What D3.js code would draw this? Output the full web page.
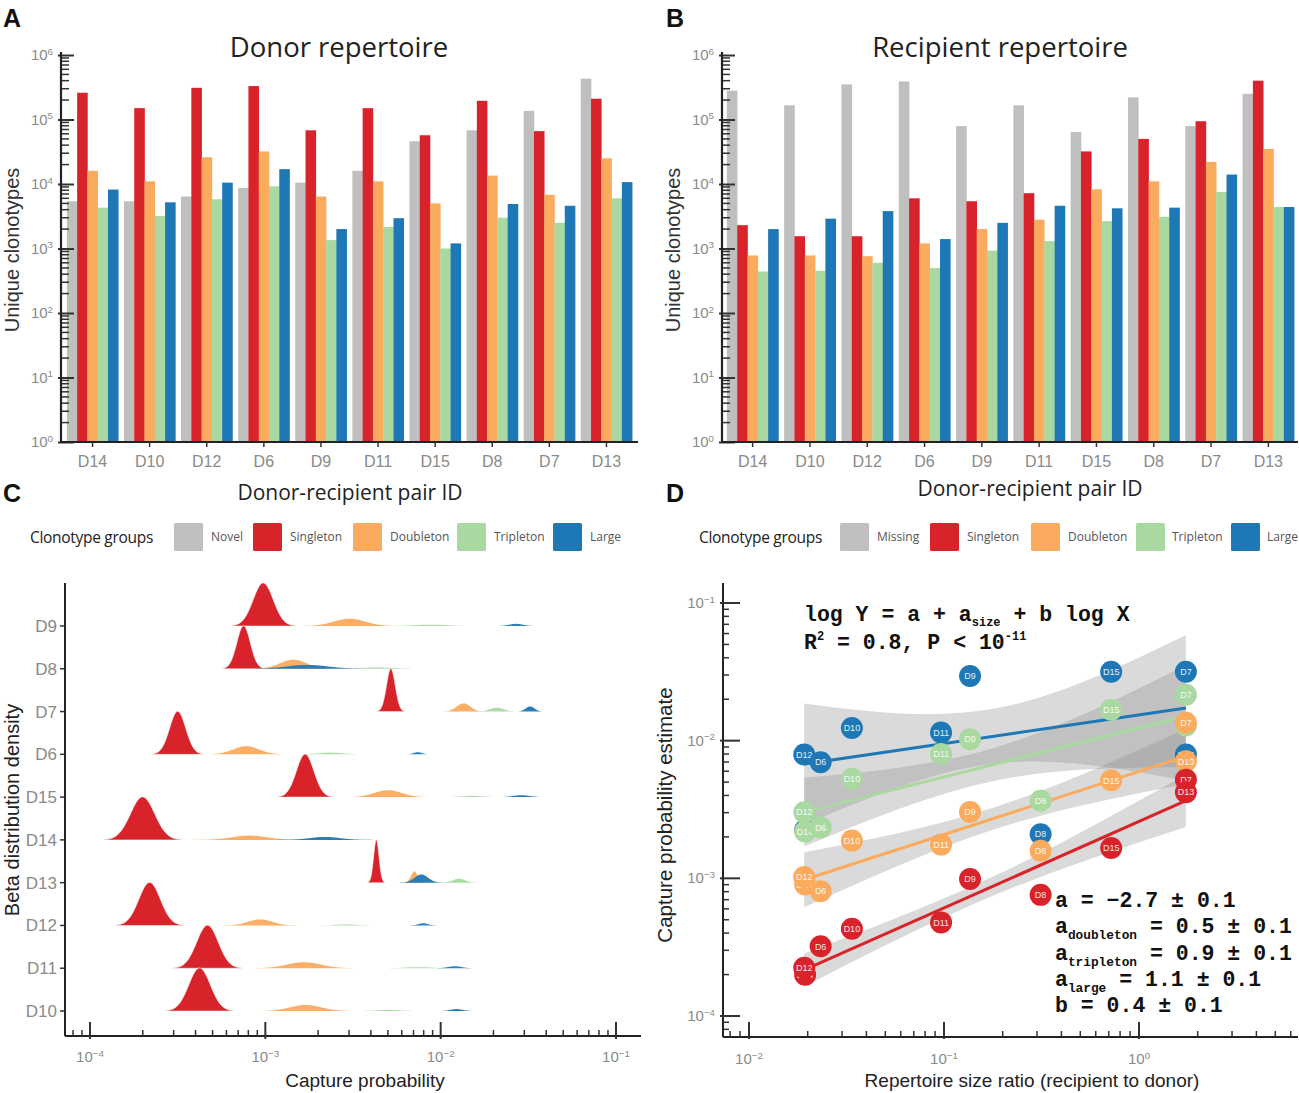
<!DOCTYPE html>
<html><head><meta charset="utf-8">
<script src="https://cdn.jsdelivr.net/npm/d3@7"></script>
<style>body{margin:0;background:#fff} svg{display:block}</style>
</head><body>
<svg id="c" width="1299" height="1093"></svg>
<script>
// ---------------- DATA ----------------
const donors = ["D14","D10","D12","D6","D9","D11","D15","D8","D7","D13"];
const groupsA = ["Novel","Singleton","Doubleton","Tripleton","Large"];
const groupsB = ["Missing","Singleton","Doubleton","Tripleton","Large"];
const groupColors = ["#bfbfbf","#d9232b","#fbab5e","#a9d9a1","#1f78b6"];

// Panel A: donor repertoire (unique clonotypes), donor order as above
const donorNovel     = [5400,5400,6400,8700,10500,16000,46000,68000,136000,430000];
const donorSingleton = [260000,150000,310000,330000,68000,150000,57000,195000,66000,210000];
const donorDoubleton = [16000,11000,26000,32000,6400,11000,5000,13500,6800,25000];
const donorTripleton = [4300,3200,5800,9200,1350,2150,1000,3000,2500,6000];
const donorLarge     = [8200,5200,10500,17000,2000,2950,1200,4900,4600,10700];

// Panel B: recipient repertoire
const recipMissing   = [280000,166000,350000,390000,79000,166000,64000,220000,79000,250000];
const recipSingleton = [2300,1550,1550,6000,5400,7200,32000,50000,94000,400000];
const recipDoubleton = [780,780,760,1200,2000,2800,8300,11000,22000,35000];
const recipTripleton = [440,450,600,500,930,1300,2650,3100,7500,4400];
const recipLarge     = [2000,2900,3800,1400,2500,4600,4200,4300,14000,4400];

// Panel C: beta distribution ridges (rows top to bottom)
const ridgeRows = ["D9","D8","D7","D6","D15","D14","D13","D12","D11","D10"];
const ridgeGroups = ["Singleton","Doubleton","Tripleton","Large"];
// peak location (log10 capture probability)
const ridgeCenter = [
  [-3.012,-3.124,-2.284,-3.50,-2.773,-3.70,-2.367,-3.66,-3.33,-3.375],
  [-2.52,-2.84,-1.87,-3.11,-2.30,-3.09,-2.15,-3.03,-2.78,-2.77],
  [-2.06,-2.37,-1.68,-2.63,-1.82,-2.66,-1.895,-2.54,-2.13,-2.30],
  [-1.57,-2.76,-1.49,-2.13,-1.54,-2.66,-2.11,-2.10,-1.92,-1.91]
];
// spread (half-width at base, decades)
const ridgeSpread = [
  [0.15,0.10,0.065,0.12,0.13,0.18,0.04,0.16,0.16,0.16],
  [0.23,0.20,0.10,0.19,0.20,0.26,0.05,0.18,0.25,0.23],
  [0.23,0.25,0.10,0.18,0.17,0.20,0.09,0.15,0.19,0.17],
  [0.10,0.30,0.065,0.06,0.12,0.22,0.10,0.07,0.10,0.09]
];
// peak height relative to singleton peak
const ridgeHeight = [
  [1,1,1,1,1,1,1,1,1,1],
  [0.17,0.21,0.19,0.19,0.16,0.10,0.26,0.14,0.14,0.14],
  [0.03,0.03,0.09,0.04,0.025,0.02,0.09,0.025,0.025,0.025],
  [0.05,0.09,0.12,0.05,0.045,0.07,0.19,0.05,0.045,0.045]
];

// Panel D: repertoire size ratio and capture probability estimates (log10), donor order
const sizeRatio = [0.0194,0.0337,0.0192,0.0233,0.136,0.0966,0.72,0.313,1.74,1.74];
const estSingleton = [-3.70,-3.366,-3.65,-3.494,-3.005,-3.32,-2.78,-3.12,-2.283,-2.375];
const estDoubleton = [-3.045,-2.726,-2.99,-3.094,-2.518,-2.755,-2.288,-2.80,-1.87,-2.15];
const estTripleton = [-2.66,-2.276,-2.52,-2.63,-1.99,-2.097,-1.775,-2.436,-1.666,-1.89];
const estLarge     = [-2.65,-1.908,-2.10,-2.157,-1.53,-1.94,-1.50,-2.68,-1.50,-2.10];
// fitted lines (log10 Y = intercept + slope*log10 X), groups Singleton..Large
const fitIntercept = [-2.587,-2.224,-1.908,-1.813];
const fitSlope     = [0.628,0.458,0.356,0.208];
// confidence band half-widths (decades) at left, middle, right of x-range
const bandLogX     = [-1.717,-0.74,0.24];
const bandHalf = [[0.12,0.07,0.19],[0.2,0.08,0.2],[0.25,0.12,0.37],[0.44,0.2,0.53]];

const yTicksBar = [1,10,100,1000,10000,100000,1000000];

// ---------------- DRAW ----------------
const svg = d3.select("#c");
const SANS = "'Liberation Sans',Arial,sans-serif";
const OPEN = "'Open Sans','Noto Sans',sans-serif";
const MONO = "'Liberation Mono','DejaVu Sans Mono',monospace";
const TICKC = "#8a8a8a";

function supText(sel, base, exp){
  sel.text(null);
  sel.append("tspan").text(base);
  sel.append("tspan").attr("dy","-0.55em").attr("font-size","0.65em").text(exp);
}
function expOf(v){ const e=Math.round(Math.log10(v)); return e<0 ? "\u2212"+(-e) : ""+e; }

// panel letters
[["A",3,27],["B",666,27],["C",3,502],["D",666,502]].forEach(([t,x,y])=>{
  svg.append("text").attr("x",x).attr("y",y).attr("font-family",SANS).attr("font-weight","bold")
    .attr("font-size",25).attr("fill","#111").text(t);
});

function barPanel(cfg){
  const g = svg.append("g");
  const y = d3.scaleLog().domain([1,1e6]).range([442,55]);
  const xb = d3.scaleBand().domain(donors).range(cfg.range).paddingInner(0.1).paddingOuter(0.05);
  const xs = d3.scaleBand().domain(d3.range(5)).range([0,xb.bandwidth()]);
  cfg.series.forEach((vals,gi)=>{
    g.selectAll(null).data(vals).join("rect")
      .attr("x",(d,i)=>xb(donors[i])+xs(gi))
      .attr("width",xs.bandwidth()+0.3)
      .attr("y",d=>y(d)).attr("height",d=>y(1)-y(d))
      .attr("fill",groupColors[gi]);
  });
  // minor ticks
  const minors = y.ticks().filter(v=>!yTicksBar.includes(v));
  g.selectAll(null).data(minors).join("line")
    .attr("x1",cfg.axisX).attr("x2",cfg.axisX+8).attr("y1",d=>y(d)).attr("y2",d=>y(d))
    .attr("stroke","#333").attr("stroke-width",1.5);
  const ax = g.append("g").attr("transform",`translate(${cfg.axisX},0)`)
    .call(d3.axisLeft(y).tickValues(yTicksBar).tickSize(-13).tickPadding(8));
  ax.select(".domain").remove();
  ax.selectAll(".tick line").attr("stroke","#333").attr("stroke-width",2).attr("x1",-3);
  ax.selectAll(".tick text").attr("font-family",SANS).attr("font-size",15).attr("fill",TICKC)
    .each(function(d){ supText(d3.select(this),"10",expOf(d)); });
  g.append("line").attr("x1",cfg.axisX).attr("x2",cfg.axisX).attr("y1",y(1e6)-3).attr("y2",y(1))
    .attr("stroke","#222").attr("stroke-width",2.2);
  // x axis with category ticks
  g.append("line").attr("x1",cfg.axisX).attr("x2",cfg.xEnd).attr("y1",y(1)).attr("y2",y(1))
    .attr("stroke","#222").attr("stroke-width",2.2);
  g.selectAll(null).data(donors).join("line")
    .attr("x1",d=>xb(d)+xb.bandwidth()/2).attr("x2",d=>xb(d)+xb.bandwidth()/2)
    .attr("y1",y(1)).attr("y2",y(1)+5).attr("stroke","#333").attr("stroke-width",1.5);
  g.selectAll(null).data(donors).join("text")
    .attr("x",d=>xb(d)+xb.bandwidth()/2).attr("y",467).attr("text-anchor","middle")
    .attr("font-family",SANS).attr("font-size",16).attr("fill",TICKC).text(d=>d);
  g.append("text").attr("x",cfg.titleX).attr("y",57).attr("text-anchor","middle")
    .attr("font-family",OPEN).attr("font-size",27.5).attr("fill","#222").text(cfg.title);
  g.append("text").attr("transform",`translate(${cfg.axisX-42},250) rotate(-90)`).attr("text-anchor","middle")
    .attr("font-family",SANS).attr("font-size",20).attr("fill","#333").text("Unique clonotypes");
  g.append("text").attr("x",cfg.xlabX).attr("y",cfg.xlabY).attr("text-anchor","middle")
    .attr("font-family",OPEN).attr("font-size",21).attr("fill","#222").text("Donor-recipient pair ID");
}

barPanel({range:[64,635], axisX:61, xEnd:638, title:"Donor repertoire", titleX:339, xlabX:350, xlabY:500,
  series:[donorNovel,donorSingleton,donorDoubleton,donorTripleton,donorLarge]});
barPanel({range:[724,1297], axisX:722, xEnd:1298, title:"Recipient repertoire", titleX:1000, xlabX:1030, xlabY:496,
  series:[recipMissing,recipSingleton,recipDoubleton,recipTripleton,recipLarge]});

// legends
function legend(x0, labels, swX, txX){
  const g = svg.append("g");
  g.append("text").attr("x",x0).attr("y",543).attr("font-family",OPEN).attr("font-size",15.5)
    .attr("fill","#222").attr("letter-spacing","-0.3").text("Clonotype groups");
  labels.forEach((l,i)=>{
    g.append("rect").attr("x",swX[i]).attr("y",523).attr("width",29).attr("height",28).attr("rx",1.5)
      .attr("fill",groupColors[i]);
    g.append("text").attr("x",txX[i]).attr("y",541).attr("font-family",OPEN).attr("font-size",12)
      .attr("fill","#555").text(l);
  });
}
legend(30, groupsA, [174,253,353,457,553], [211,290,390,494,590]);
legend(699, groupsB, [840,930,1031,1136,1231], [877,967,1068,1172,1267]);

// ---------------- Panel C ----------------
(function(){
  const g = svg.append("g");
  const x = d3.scaleLog().domain([1e-4,1e-1]).range([90,616]);
  const x0 = 65, x1 = 641, yAxis = 1036;
  const yr = d3.scalePoint().domain(ridgeRows).range([626,1011]);
  const h = d3.scaleLinear().domain([0,1]).range([0,43]);
  ridgeRows.forEach((row,ri)=>{
    ridgeGroups.forEach((grp,gi)=>{
      const c = ridgeCenter[gi][ri], s = ridgeSpread[gi][ri]/2.6, hh = ridgeHeight[gi][ri];
      const pts = d3.range(-3.2,3.2001,0.05).map(k=>c+k*s);
      const area = d3.area().x(l=>x(Math.pow(10,l))).y0(yr(row))
        .y1(l=>yr(row)-h(hh*Math.exp(-0.5*Math.pow((l-c)/s,2)))).curve(d3.curveBasis);
      g.append("path").attr("d",area(pts)).attr("fill",groupColors[gi+1])
        .attr("stroke",gi===0?"#fff":"none").attr("stroke-width",0.8).attr("stroke-opacity",0.7)
        .attr("fill-opacity",gi===0?1:0.95);
    });
  });
  // axes
  g.append("line").attr("x1",x0).attr("x2",x0).attr("y1",583).attr("y2",yAxis).attr("stroke","#222").attr("stroke-width",2);
  g.append("line").attr("x1",x0).attr("x2",x1).attr("y1",yAxis).attr("y2",yAxis).attr("stroke","#222").attr("stroke-width",2);
  ridgeRows.forEach(r=>{
    g.append("line").attr("x1",x0-5).attr("x2",x0).attr("y1",yr(r)).attr("y2",yr(r)).attr("stroke","#333").attr("stroke-width",1.5);
    g.append("text").attr("x",x0-8).attr("y",yr(r)+6).attr("text-anchor","end").attr("font-family",SANS)
      .attr("font-size",17).attr("fill",TICKC).text(r);
  });
  const xd = [x.invert(x0), x.invert(x1)];
  const xt = d3.scaleLog().domain(xd).ticks();
  const majors = [1e-4,1e-3,1e-2,1e-1];
  xt.filter(v=>!majors.some(m=>Math.abs(m-v)/m<1e-6)).forEach(v=>{
    g.append("line").attr("x1",x(v)).attr("x2",x(v)).attr("y1",yAxis-6).attr("y2",yAxis).attr("stroke","#333").attr("stroke-width",1.5);
  });
  majors.forEach(v=>{
    g.append("line").attr("x1",x(v)).attr("x2",x(v)).attr("y1",yAxis-14).attr("y2",yAxis+3).attr("stroke","#333").attr("stroke-width",2);
    const t = g.append("text").attr("x",x(v)).attr("y",1062).attr("text-anchor","middle").attr("font-family",SANS)
      .attr("font-size",15).attr("fill",TICKC);
    supText(t,"10",expOf(v));
  });
  g.append("text").attr("x",365).attr("y",1087).attr("text-anchor","middle").attr("font-family",SANS)
    .attr("font-size",19).attr("fill","#222").text("Capture probability");
  g.append("text").attr("transform","translate(19,810) rotate(-90)").attr("text-anchor","middle")
    .attr("font-family",SANS).attr("font-size",20).attr("fill","#222").text("Beta distribution density");
})();

// ---------------- Panel D ----------------
(function(){
  const g = svg.append("g");
  const x = d3.scaleLog().domain([0.01,1]).range([749,1139]);
  const y = d3.scaleLog().domain([1e-4,1e-1]).range([1016,603]);
  const x0 = 723, x1 = 1298, yAxis = 1037, yTop = 583;
  const est = [estSingleton, estDoubleton, estTripleton, estLarge];
  // bands
  bandHalf.forEach((hw,gi)=>{
    const pts = bandLogX.map((lx,k)=>({lx, c: fitIntercept[gi]+fitSlope[gi]*lx, w: hw[k]}));
    const area = d3.area().x(p=>x(Math.pow(10,p.lx)))
      .y0(p=>y(Math.pow(10,p.c-p.w))).y1(p=>y(Math.pow(10,p.c+p.w))).curve(d3.curveNatural);
    g.append("path").attr("d",area(pts)).attr("fill","#8f8f8f").attr("fill-opacity",0.33);
  });
  // lines
  const xr = d3.extent(sizeRatio);
  [0,1,2,3].forEach(gi=>{
    g.append("line").attr("x1",x(xr[0])).attr("x2",x(xr[1]))
      .attr("y1",y(Math.pow(10,fitIntercept[gi]+fitSlope[gi]*Math.log10(xr[0]))))
      .attr("y2",y(Math.pow(10,fitIntercept[gi]+fitSlope[gi]*Math.log10(xr[1]))))
      .attr("stroke",groupColors[gi+1]).attr("stroke-width",3);
  });
  // points
  [3,2,1,0].forEach(gi=>{
    donors.forEach((d,i)=>{
      const cx = x(sizeRatio[i]), cy = y(Math.pow(10,est[gi][i]));
      g.append("circle").attr("cx",cx).attr("cy",cy).attr("r",11).attr("fill",groupColors[gi+1]);
      g.append("text").attr("x",cx).attr("y",cy+3.2).attr("text-anchor","middle").attr("font-family",SANS)
        .attr("font-size",9).attr("fill","#fff").attr("fill-opacity",0.9).text(d);
    });
  });
  // axes
  g.append("line").attr("x1",x0).attr("x2",x0).attr("y1",yTop).attr("y2",yAxis).attr("stroke","#222").attr("stroke-width",2);
  g.append("line").attr("x1",x0).attr("x2",x1).attr("y1",yAxis).attr("y2",yAxis).attr("stroke","#222").attr("stroke-width",2);
  const ymaj = [1e-4,1e-3,1e-2,1e-1];
  const yt = d3.scaleLog().domain([y.invert(yAxis), y.invert(yTop)]).ticks();
  yt.filter(v=>!ymaj.some(m=>Math.abs(m-v)/m<1e-6)).forEach(v=>{
    g.append("line").attr("x1",x0).attr("x2",x0+6).attr("y1",y(v)).attr("y2",y(v)).attr("stroke","#333").attr("stroke-width",1.5);
  });
  ymaj.forEach(v=>{
    g.append("line").attr("x1",x0-3).attr("x2",x0+17).attr("y1",y(v)).attr("y2",y(v)).attr("stroke","#333").attr("stroke-width",2);
    const t = g.append("text").attr("x",x0-8).attr("y",y(v)+5).attr("text-anchor","end").attr("font-family",SANS)
      .attr("font-size",15).attr("fill",TICKC);
    supText(t,"10",expOf(v));
  });
  const xmaj = [1e-2,1e-1,1];
  const xt = d3.scaleLog().domain([x.invert(x0), x.invert(x1)]).ticks();
  xt.filter(v=>!xmaj.some(m=>Math.abs(m-v)/m<1e-6)).forEach(v=>{
    g.append("line").attr("x1",x(v)).attr("x2",x(v)).attr("y1",yAxis-6).attr("y2",yAxis).attr("stroke","#333").attr("stroke-width",1.5);
  });
  xmaj.forEach(v=>{
    g.append("line").attr("x1",x(v)).attr("x2",x(v)).attr("y1",yAxis-15).attr("y2",yAxis+2).attr("stroke","#333").attr("stroke-width",2);
    const t = g.append("text").attr("x",x(v)).attr("y",1064).attr("text-anchor","middle").attr("font-family",SANS)
      .attr("font-size",15).attr("fill",TICKC);
    supText(t,"10",expOf(v));
  });
  g.append("text").attr("x",1032).attr("y",1087).attr("text-anchor","middle").attr("font-family",SANS)
    .attr("font-size",19).attr("fill","#222").text("Repertoire size ratio (recipient to donor)");
  g.append("text").attr("transform","translate(672,815) rotate(-90)").attr("text-anchor","middle")
    .attr("font-family",SANS).attr("font-size",20.5).attr("fill","#222").text("Capture probability estimate");

  // annotations
  function mono(xp, yp){ return g.append("text").attr("x",xp).attr("y",yp).attr("font-family",MONO)
    .attr("font-weight","bold").attr("font-size",21.5).attr("fill","#111").style("white-space","pre"); }
  let t = mono(804,621);
  t.append("tspan").text("log Y = a + a");
  t.append("tspan").attr("dy",5).attr("font-size",12).text("size");
  t.append("tspan").attr("dy",-5).text(" + b log X");
  t = mono(804,649);
  t.append("tspan").text("R");
  t.append("tspan").attr("dy",-9).attr("font-size",12).text("2");
  t.append("tspan").attr("dy",9).text(" = 0.8, P < 10");
  t.append("tspan").attr("dy",-9).attr("font-size",12).text("-11");
  mono(1055,907).text("a = \u22122.7 \u00b1 0.1");
  const subs = [["doubleton"," = 0.5 \u00b1 0.1"],["tripleton"," = 0.9 \u00b1 0.1"],["large"," = 1.1 \u00b1 0.1"]];
  subs.forEach(([s,rest],k)=>{
    const tt = mono(1055,933+k*26.5);
    tt.append("tspan").text("a");
    tt.append("tspan").attr("dy",6).attr("font-size",12.8).text(s);
    tt.append("tspan").attr("dy",-6).text(rest);
  });
  mono(1055,1012).text("b = 0.4 \u00b1 0.1");
})();
</script>
</body></html>
